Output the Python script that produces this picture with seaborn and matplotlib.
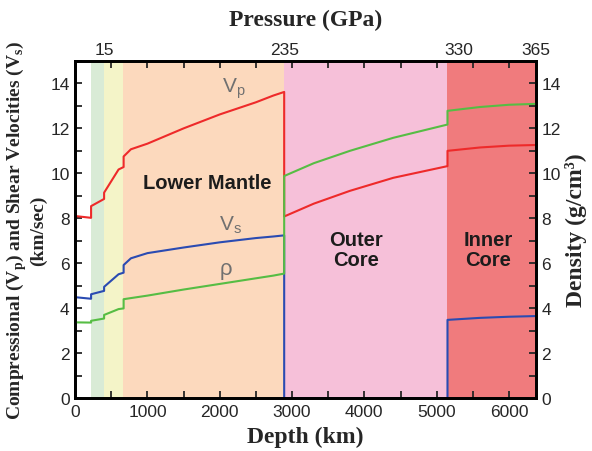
import numpy as np
import pandas as pd
import matplotlib.pyplot as plt
import seaborn as sns
from matplotlib.ticker import MultipleLocator

# PREM-like profile
depth = [0, 220, 220, 400, 400, 600, 670, 670, 771, 1000, 1500, 2000, 2500, 2741, 2891,
         2891, 3300, 3800, 4400, 5150, 5150, 5600, 6000, 6371]
vp = [8.10, 8.02, 8.54, 8.86, 9.14, 10.17, 10.28, 10.75, 11.07, 11.32, 12.00, 12.62, 13.16, 13.46, 13.62,
      8.08, 8.65, 9.22, 9.80, 10.32, 11.00, 11.15, 11.23, 11.26]
vs = [4.49, 4.42, 4.62, 4.77, 4.95, 5.51, 5.58, 5.92, 6.22, 6.45, 6.70, 6.93, 7.12, 7.19, 7.24,
      0.0, 0.0, 0.0, 0.0, 0.0, 3.48, 3.57, 3.62, 3.65]
rho = [3.37, 3.36, 3.44, 3.54, 3.70, 3.96, 3.99, 4.40, 4.45, 4.56, 4.83, 5.08, 5.33, 5.45, 5.54,
       9.88, 10.45, 11.00, 11.58, 12.17, 12.78, 12.95, 13.05, 13.09]

layer_edges = [0, 220, 400, 660, 2891, 5150, 6371]
layer_colors = ['#ffffff', '#d9ebd6', '#f4f4c8', '#fcd9bd', '#f6c0d9', '#f07b7d']

pressure_depth = [400, 2891, 5300, 6371]
pressure_labels = ['15', '235', '330', '365']

df = pd.DataFrame({'depth': depth, 'vp': vp, 'vs': vs, 'rho': rho})

sns.set_style('ticks')
plt.rcParams['font.family'] = ['Liberation Sans', 'DejaVu Sans']
plt.rcParams['xtick.direction'] = 'in'
plt.rcParams['ytick.direction'] = 'in'

fig = plt.figure(figsize=(5.92, 4.52), dpi=100)
ax = fig.add_axes([0.127, 0.117, 0.778, 0.746])

for i in range(len(layer_colors)):
    ax.axvspan(layer_edges[i], layer_edges[i + 1], color=layer_colors[i], lw=0, zorder=0)

sns.lineplot(data=df, x='depth', y='vp', sort=False, estimator=None, color='#ee2a2a', lw=1.5, ax=ax)
sns.lineplot(data=df, x='depth', y='vs', sort=False, estimator=None, color='#2a4bb2', lw=1.5, ax=ax)

ax2 = ax.twinx()
sns.lineplot(data=df, x='depth', y='rho', sort=False, estimator=None, color='#56bd44', lw=1.5, ax=ax2)

for a in (ax, ax2):
    a.set_xlim(0, 6371)
    a.set_ylim(0, 15)
    a.yaxis.set_major_locator(MultipleLocator(2))
    a.yaxis.set_minor_locator(MultipleLocator(1))
    for s in a.spines.values():
        s.set_linewidth(2)
        s.set_color('black')

ax.xaxis.set_major_locator(MultipleLocator(1000))
ax.xaxis.set_minor_locator(MultipleLocator(500))
ax.tick_params(which='both', top=True, labeltop=False, right=False, width=1.3, length=5,
               labelsize=12.5, pad=4)
ax2.tick_params(which='both', width=1.3, length=5, labelsize=12.5, pad=4)

serif = ['Liberation Serif', 'DejaVu Serif']
ax.set_xlabel('Depth (km)', family=serif, weight='bold', fontsize=17, labelpad=5)
ax.set_ylabel('Compressional (V$_\\mathregular{p}$) and Shear Velocities (V$_\\mathregular{s}$)\n(km/sec)',
              family=serif, weight='bold', fontsize=14, labelpad=2, linespacing=1.1)
ax2.set_ylabel('Density (g/cm³)', family=serif, weight='bold', fontsize=17,
               rotation=90, labelpad=3)

top = ax.secondary_xaxis('top')
top.set_xticks(pressure_depth)
top.set_xticklabels(pressure_labels)
top.tick_params(length=0, labelsize=12.5, pad=3)
top.spines['top'].set_visible(False)
top.set_xlabel('Pressure (GPa)', family=serif, weight='bold', fontsize=17, labelpad=12)

gray = '#707070'
ax.text(2200, 13.8, 'V$_\\mathregular{p}$', fontsize=15, color=gray, ha='center', va='center')
ax.text(2150, 7.75, 'V$_\\mathregular{s}$', fontsize=15, color=gray, ha='center', va='center')
ax.text(2080, 5.75, 'ρ', fontsize=16, color=gray, ha='center', va='center')

lab = dict(fontsize=14.5, weight='bold', color='#1c1c1c', ha='center', va='center', linespacing=1.05)
ax.text(1820, 9.6, 'Lower Mantle', **lab)
ax.text(3890, 6.6, 'Outer\nCore', **lab)
ax.text(5710, 6.6, 'Inner\nCore', **lab)

plt.savefig('out.png', dpi=100)
